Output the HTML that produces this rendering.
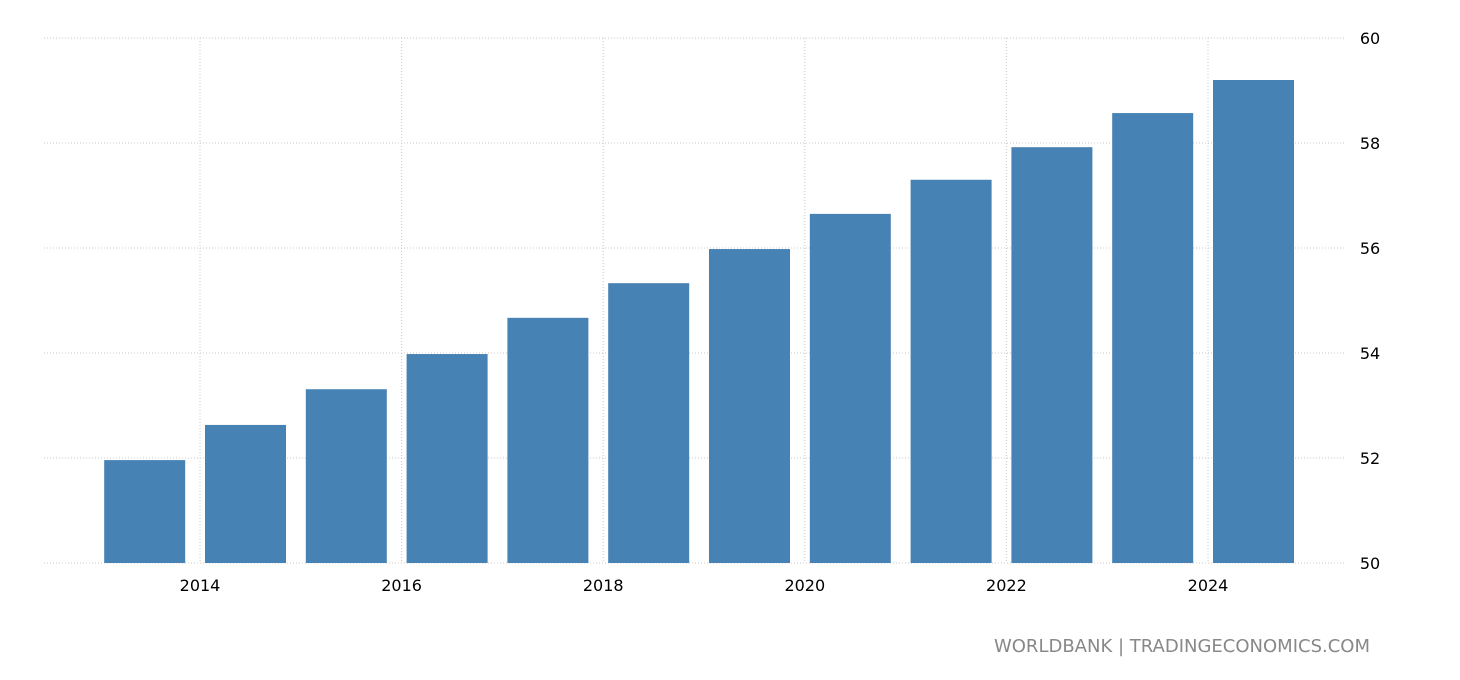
<!DOCTYPE html>
<html><head><meta charset="utf-8"><style>
body{margin:0;background:#fff;}
svg{display:block;font-family:"DejaVu Sans","Liberation Sans",sans-serif;}
</style></head><body>
<svg id="chart" width="1460" height="680">
<g id="grid"></g>
<g id="bars"></g>
<g id="xlabels"></g>
<g id="ylabels"></g>
<text x="1370" y="652" text-anchor="end" font-size="18" fill="#888">WORLDBANK | TRADINGECONOMICS.COM</text>
</svg>
<script>
const years=[2013,2014,2015,2016,2017,2018,2019,2020,2021,2022,2023,2024];
const values=[51.96,52.63,53.31,53.98,54.67,55.33,55.98,56.65,57.30,57.92,58.57,59.20];
const yTicks=[50,52,54,56,58,60];
const xTicks=[2014,2016,2018,2020,2022,2024];
const NS="http://www.w3.org/2000/svg";
function xs(y){return 200+(y-2014)*100.8;}
function ys(v){return 563-(v-50)*52.5;}
function mk(tag,attrs,parent){const e=document.createElementNS(NS,tag);for(const k in attrs)e.setAttribute(k,attrs[k]);document.getElementById(parent).appendChild(e);return e;}
yTicks.forEach(t=>{
 const l=mk('line',{x1:44,x2:1345,y1:ys(t),y2:ys(t),stroke:'#c8c8c8','stroke-dasharray':'1,2'},'grid');
 
 
 const tx=mk('text',{x:1370,y:ys(t)+6,'text-anchor':'middle','font-size':16,fill:'#000'},'ylabels');
 tx.textContent=t;
 
 
});
xTicks.forEach(t=>{
 const l=mk('line',{x1:xs(t),x2:xs(t),y1:38,y2:563,stroke:'#c8c8c8','stroke-dasharray':'1,2'},'grid');
 
 
 const tx=mk('text',{x:xs(t),y:591,'text-anchor':'middle','font-size':16,fill:'#000'},'xlabels');
 tx.textContent=t;
 
 
});
years.forEach((y,i)=>{
 const r=mk('rect',{x:xs(y)+5,width:81,y:ys(values[i]),height:ys(50)-ys(values[i]),fill:'#4682b4'},'bars');
 
 
});
</script>
</body></html>
